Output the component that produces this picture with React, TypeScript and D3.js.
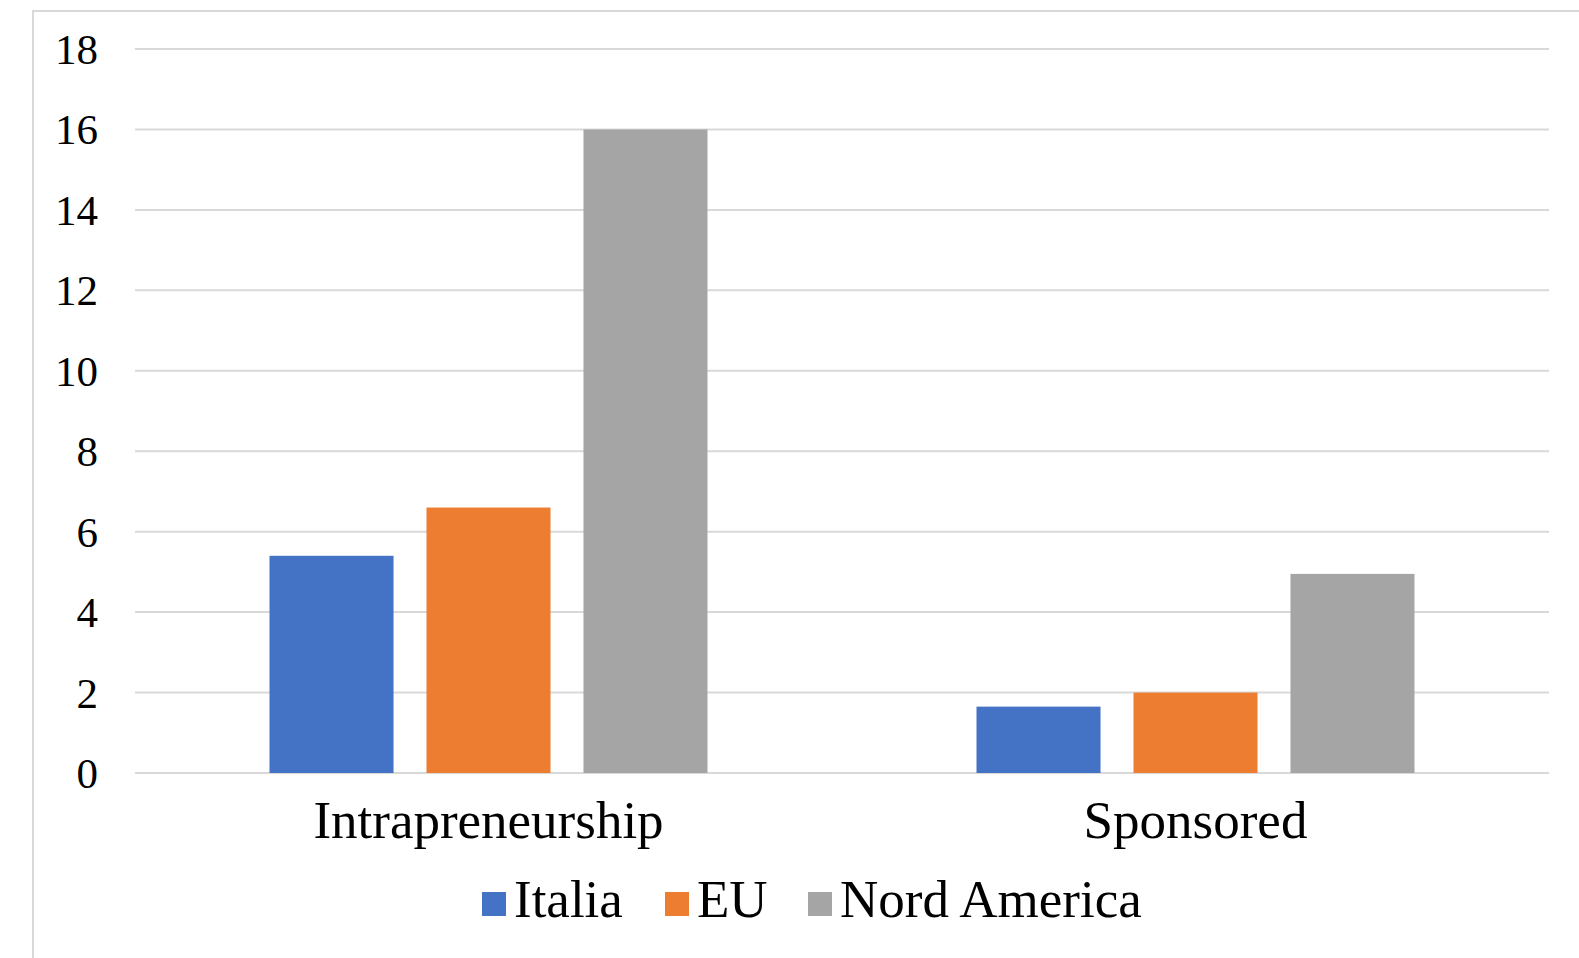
import * as d3 from "d3";
import { useEffect } from "react";

const categories = ["Intrapreneurship", "Sponsored"];
const seriesNames = ["Italia", "EU", "Nord America"];
const italia = [5.4, 1.65];
const eu = [6.6, 2.0];
const nordAmerica = [16, 4.95];
const yTicks = [0, 2, 4, 6, 8, 10, 12, 14, 16, 18];
const colors = ["#4472c4", "#ed7d31", "#a5a5a5"];

export default function App() {
  const W = 1579;
  const H = 958;
  const left = 135;
  const right = 1549;
  const top = 49;
  const bottom = 773;
  const font = "'Liberation Serif', 'DejaVu Serif', serif";

  useEffect(() => {
    document.body.style.margin = "0";
    document.body.style.overflow = "hidden";
  }, []);

  const values = [italia, eu, nordAmerica];
  const y = d3.scaleLinear().domain([0, 18]).range([bottom, top]);
  const x0 = d3.scaleBand().domain(categories).range([left, right]);
  const groupW = 438;
  const x1 = d3
    .scaleBand()
    .domain(seriesNames)
    .range([-groupW / 2, groupW / 2])
    .paddingInner(0.21);

  const legendX = [482, 665, 808];

  return (
    <svg width={W} height={H} style={{ display: "block", background: "#fff" }}>
      <rect x={33} y={11} width={W} height={H} fill="none" stroke="#d9d9d9" strokeWidth={2} />
      {yTicks.map((t) => (
        <g key={t}>
          <line x1={left} x2={right} y1={y(t)} y2={y(t)} stroke="#d9d9d9" strokeWidth={2} />
          <text x={98} y={y(t)} dy="0.35em" textAnchor="end" fontSize={43} fontFamily={font} fill="#000">
            {t}
          </text>
        </g>
      ))}
      {categories.map((c, ci) => {
        const cx = (x0(c) ?? 0) + x0.bandwidth() / 2;
        return (
          <g key={c}>
            {seriesNames.map((s, si) => (
              <rect
                key={s}
                x={cx + (x1(s) ?? 0)}
                y={y(values[si][ci])}
                width={x1.bandwidth()}
                height={bottom - y(values[si][ci])}
                fill={colors[si]}
              />
            ))}
            <text x={cx} y={838} textAnchor="middle" fontSize={53} fontFamily={font} fill="#000">
              {c}
            </text>
          </g>
        );
      })}
      {seriesNames.map((s, si) => (
        <g key={s}>
          <rect x={legendX[si]} y={892} width={24} height={24} fill={colors[si]} />
          <text x={legendX[si] + 32} y={917} fontSize={53} fontFamily={font} fill="#000">
            {s}
          </text>
        </g>
      ))}
    </svg>
  );
}
